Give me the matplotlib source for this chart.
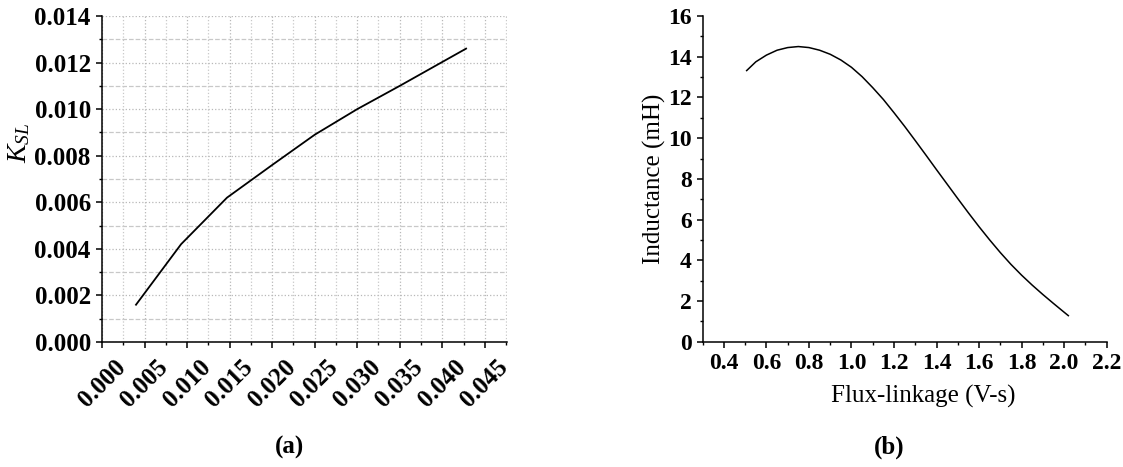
import matplotlib
matplotlib.use("Agg")
import matplotlib.pyplot as plt
from matplotlib.ticker import MultipleLocator, FormatStrFormatter

plt.rcParams["font.family"] = "Liberation Serif"
plt.rcParams["mathtext.fontset"] = "custom"
plt.rcParams["mathtext.it"] = "Liberation Serif:italic"
plt.rcParams["mathtext.rm"] = "Liberation Serif"

# (a) K_SL curve
ksl_x = [0.0040, 0.0093, 0.0147, 0.0200, 0.0250, 0.0300, 0.0350, 0.0428]
ksl_y = [0.0016, 0.0042, 0.0062, 0.0076, 0.0089, 0.0100, 0.0110, 0.0126]

# (b) inductance vs flux-linkage
flux = [0.507, 0.55, 0.60, 0.65, 0.70, 0.75, 0.80, 0.85, 0.90, 0.95, 1.00,
        1.05, 1.10, 1.15, 1.20, 1.25, 1.30, 1.35, 1.40, 1.45, 1.50, 1.55,
        1.60, 1.65, 1.70, 1.75, 1.80, 1.85, 1.90, 1.95, 2.00, 2.02]
induct = [13.32, 13.75, 14.08, 14.32, 14.45, 14.50, 14.45, 14.32, 14.12,
          13.84, 13.48, 13.02, 12.48, 11.90, 11.25, 10.58, 9.88, 9.17, 8.45,
          7.74, 7.03, 6.33, 5.65, 5.00, 4.38, 3.80, 3.27, 2.78, 2.32, 1.88,
          1.45, 1.28]

fig = plt.figure(figsize=(11.23, 4.67), dpi=100)
ax1 = fig.add_axes([0.0908, 0.2677, 0.3606, 0.698])
ax2 = fig.add_axes([0.6257, 0.2683, 0.3597, 0.6974])

for ax in (ax1, ax2):
    ax.spines["top"].set_visible(False)
    ax.spines["right"].set_visible(False)
    ax.spines["left"].set_linewidth(1.1)
    ax.spines["bottom"].set_linewidth(1.1)
    ax.tick_params(which="major", direction="out", length=4, width=1.1,
                   pad=4)
    ax.tick_params(which="minor", direction="out", length=2.5, width=1.0)

# panel (a)
ax1.plot(ksl_x, ksl_y, color="black", lw=1.3, zorder=3)
ax1.set_xlim(0, 0.0476)
ax1.set_ylim(0, 0.014)
ax1.xaxis.set_major_locator(MultipleLocator(0.005))
ax1.xaxis.set_minor_locator(MultipleLocator(0.0025))
ax1.yaxis.set_major_locator(MultipleLocator(0.002))
ax1.yaxis.set_minor_locator(MultipleLocator(0.001))
ax1.xaxis.set_major_formatter(FormatStrFormatter("%.3f"))
ax1.yaxis.set_major_formatter(FormatStrFormatter("%.3f"))
ax1.tick_params(which="major", labelsize=18)
ax1.grid(True, which="major", ls=":", color="#b8b8b8", lw=0.9)
ax1.grid(True, which="minor", axis="x", ls=":", color="#c8c8c8", lw=0.9)
ax1.grid(True, which="minor", axis="y", ls="--", color="#c8c8c8", lw=0.9)
ax1.set_axisbelow(True)
for lab in ax1.get_xticklabels():
    lab.set_rotation(45)
    lab.set_ha("center")
    lab.set_va("top")
ax1.tick_params(axis="x", which="major", pad=6)
plt.setp(ax1.get_xticklabels() + ax1.get_yticklabels(), fontweight="bold")
ax1.set_ylabel(r"$K_{SL}$", fontsize=20)
ax1.yaxis.set_label_coords(-0.172, 0.61)

# panel (b)
ax2.plot(flux, induct, color="black", lw=1.1)
ax2.set_xlim(0.3, 2.2)
ax2.set_ylim(0, 16)
ax2.xaxis.set_major_locator(MultipleLocator(0.2))
ax2.xaxis.set_minor_locator(MultipleLocator(0.1))
ax2.yaxis.set_major_locator(MultipleLocator(2))
ax2.yaxis.set_minor_locator(MultipleLocator(1))
ax2.xaxis.set_major_formatter(FormatStrFormatter("%.1f"))
ax2.set_xticks([0.4, 0.6, 0.8, 1.0, 1.2, 1.4, 1.6, 1.8, 2.0, 2.2])
ax2.tick_params(which="major", labelsize=17)
plt.setp(ax2.get_xticklabels() + ax2.get_yticklabels(), fontweight="bold")
ax2.set_xlabel("Flux-linkage (V-s)", fontsize=18)
ax2.set_ylabel("Inductance (mH)", fontsize=18)
ax2.xaxis.set_label_coords(0.546, -0.133)
ax2.yaxis.set_label_coords(-0.09, 0.5)

fig.text(289 / 1123, 1 - 447 / 467, "(a)", fontsize=18, fontweight="bold",
         ha="center", va="center")
fig.text(889 / 1123, 1 - 447 / 467, "(b)", fontsize=18, fontweight="bold",
         ha="center", va="center")

fig.savefig("out.png", dpi=100)
